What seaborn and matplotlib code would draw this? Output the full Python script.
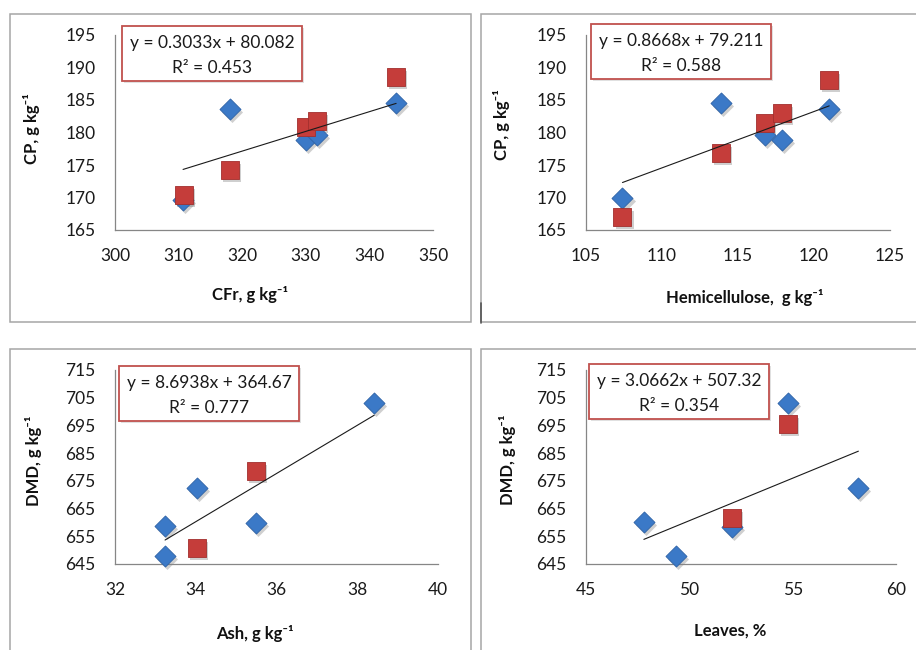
import numpy as np
import pandas as pd
import matplotlib
matplotlib.use('Agg')
import matplotlib.pyplot as plt
from matplotlib.patches import Rectangle
from matplotlib import transforms
import seaborn as sns

# values
# top left: CFr vs CP
cfr_blue = [310.7, 318.1, 330.0, 331.7, 344.2]
cp_cfr_blue = [169.6, 183.6, 178.8, 179.6, 184.5]
cfr_red = [310.9, 318.1, 330.0, 331.8, 344.2]
cp_cfr_red = [170.4, 174.3, 180.9, 181.8, 188.6]

# top right: hemicellulose vs CP
hemi_blue = [107.4, 113.9, 116.75, 117.9, 121.0]
cp_hemi_blue = [170.0, 184.5, 179.6, 178.9, 183.6]
hemi_red = [107.4, 113.9, 116.75, 117.9, 121.0]
cp_hemi_red = [167.0, 176.9, 181.4, 183.0, 188.1]

# bottom left: ash vs DMD
ash_blue = [33.24, 33.24, 34.02, 35.5, 38.42]
dmd_ash_blue = [648.0, 658.8, 672.4, 659.8, 703.0]
ash_red = [34.02, 35.5]
dmd_ash_red = [650.8, 678.7]

# bottom right: leaves vs DMD
leaves_blue = [47.8, 49.34, 52.08, 54.79, 58.18]
dmd_leaves_blue = [660.0, 648.0, 658.3, 703.0, 672.4]
leaves_red = [52.08, 54.79]
dmd_leaves_red = [661.6, 695.6]

# linear trend (blue series) as printed on the chart
slopes = ['0.3033', '0.8668', '8.6938', '3.0662']
intercepts = ['80.082', '79.211', '364.67', '507.32']
r2 = ['0.453', '0.588', '0.777', '0.354']

sup = '\u207b\u00b9'
x_labels = ['CFr, g kg' + sup, 'Hemicellulose,  g kg' + sup, 'Ash, g kg' + sup, 'Leaves, %']
y_labels = ['CP, g kg' + sup, 'CP, g kg' + sup, 'DMD, g kg' + sup, 'DMD, g kg' + sup]
x_ticks = [[300, 310, 320, 330, 340, 350], [105, 110, 115, 120, 125],
           [32, 34, 36, 38, 40], [45, 50, 55, 60]]
y_ticks = [[165, 170, 175, 180, 185, 190, 195], [165, 170, 175, 180, 185, 190, 195],
           [645, 655, 665, 675, 685, 695, 705, 715], [645, 655, 665, 675, 685, 695, 705, 715]]

sns.set_style('white')
plt.rcParams['font.family'] = ['Lato', 'DejaVu Sans']

W, H = 916, 650
fig = plt.figure(figsize=(W / 100, H / 100), dpi=100)


def fx(x):
    return x / W


def fy(y):
    return 1 - y / H


# outer chart frames (pixel boxes: left, top, right, bottom)
for l, t, r, b in [(10, 14, 471, 322), (481, 14, 930, 322), (10, 349, 471, 670), (481, 349, 930, 670)]:
    fig.patches.append(Rectangle((fx(l), fy(b)), fx(r - l), (b - t) / H, transform=fig.transFigure,
                                 fill=False, edgecolor='#a6a6a6', linewidth=1.1))
fig.add_artist(plt.Line2D([fx(481), fx(481)], [fy(303), fy(323)], transform=fig.transFigure,
                          color='#555555', linewidth=1.2))

# plot areas in pixels (left, top, right, bottom)
plot_px = [(115, 35, 433, 230), (586, 35, 890, 230), (115, 370, 438, 564), (586, 370, 896, 564)]
box_px = [(122, 26, 302, 81), (591, 24, 771, 79), (119, 366, 299, 421), (589, 364, 769, 419)]
xlab_px = [(250, 295), (745, 297), (255, 633), (730, 631)]
ylab_px = [(32, 129), (502, 125), (34, 461), (507, 460)]

panels = [
    (cfr_blue, cp_cfr_blue, cfr_red, cp_cfr_red),
    (hemi_blue, cp_hemi_blue, hemi_red, cp_hemi_red),
    (ash_blue, dmd_ash_blue, ash_red, dmd_ash_red),
    (leaves_blue, dmd_leaves_blue, leaves_red, dmd_leaves_red),
]

blue_c, blue_e = '#3b79c7', '#2d62a6'
red_c, red_e = '#c53d3a', '#a22f2d'
axis_c = '#868686'

for i, (xb, yb, xr, yr) in enumerate(panels):
    l, t, r, b = plot_px[i]
    ax = fig.add_axes([fx(l), fy(b), fx(r - l), (b - t) / H])
    blue = pd.DataFrame({'x': xb, 'y': yb})
    red = pd.DataFrame({'x': xr, 'y': yr})
    shadow = transforms.ScaledTranslation(1.5 / 72, -2.2 / 72, fig.dpi_scale_trans)

    for df, mk, sz, c, ec in [(blue, 'D', 115, blue_c, blue_e), (red, 's', 185, red_c, red_e)]:
        sns.scatterplot(data=df, x='x', y='y', marker=mk, s=sz, color='#555555', alpha=0.28,
                        linewidth=0, ax=ax, zorder=2, clip_on=False)
        ax.collections[-1].set_offset_transform(ax.transData + shadow)
        sns.scatterplot(data=df, x='x', y='y', marker=mk, s=sz, color=c, edgecolor=ec,
                        linewidth=0.6, ax=ax, zorder=3, clip_on=False)

    # trend line over the blue series range
    k, c0 = float(slopes[i]), float(intercepts[i])
    xs = np.array([min(xb), max(xb)])
    sns.lineplot(x=xs, y=k * xs + c0, color='#1a1a1a', linewidth=0.8, ax=ax, zorder=4)

    ax.set_xlim(x_ticks[i][0], x_ticks[i][-1])
    ax.set_ylim(y_ticks[i][0], y_ticks[i][-1])
    ax.set_xticks(x_ticks[i])
    ax.set_yticks(y_ticks[i])
    sns.despine(ax=ax)
    for s in ['left', 'bottom']:
        ax.spines[s].set_color(axis_c)
        ax.spines[s].set_linewidth(0.9)
    ax.tick_params(axis='both', direction='out', length=5, width=0.9, color=axis_c,
                   labelsize=12.5, labelcolor='#1a1a1a')
    ax.tick_params(axis='y', pad=9)
    ax.tick_params(axis='x', pad=8)
    ax.set_xlabel('')
    ax.set_ylabel('')

    # axis titles
    xx, xy = xlab_px[i]
    fig.text(fx(xx), fy(xy), x_labels[i], ha='center', va='center', fontsize=12,
             fontweight='bold', color='#111111')
    yx, yy = ylab_px[i]
    fig.text(fx(yx), fy(yy), y_labels[i], ha='center', va='center', rotation=90,
             fontsize=12, fontweight='bold', color='#111111')

    # equation box
    bl, bt, br, bb = box_px[i]
    fig.patches.append(Rectangle((fx(bl + 2), fy(bb + 2)), fx(br - bl), (bb - bt) / H,
                                 transform=fig.transFigure, facecolor='#cccccc',
                                 edgecolor='none', alpha=0.6, zorder=5))
    fig.patches.append(Rectangle((fx(bl), fy(bb)), fx(br - bl), (bb - bt) / H,
                                 transform=fig.transFigure, facecolor='white',
                                 edgecolor='#c0504d', linewidth=1.3, zorder=6))
    cx = (bl + br) / 2
    fig.text(fx(cx), fy(bt + 17), f'y = {slopes[i]}x + {intercepts[i]}', ha='center',
             va='center', fontsize=12.5, color='#1a1a1a', zorder=7)
    fig.text(fx(cx), fy(bt + 42), f'R\u00b2 = {r2[i]}', ha='center', va='center',
             fontsize=12.5, color='#1a1a1a', zorder=7)

fig.savefig('out.png', dpi=100)
